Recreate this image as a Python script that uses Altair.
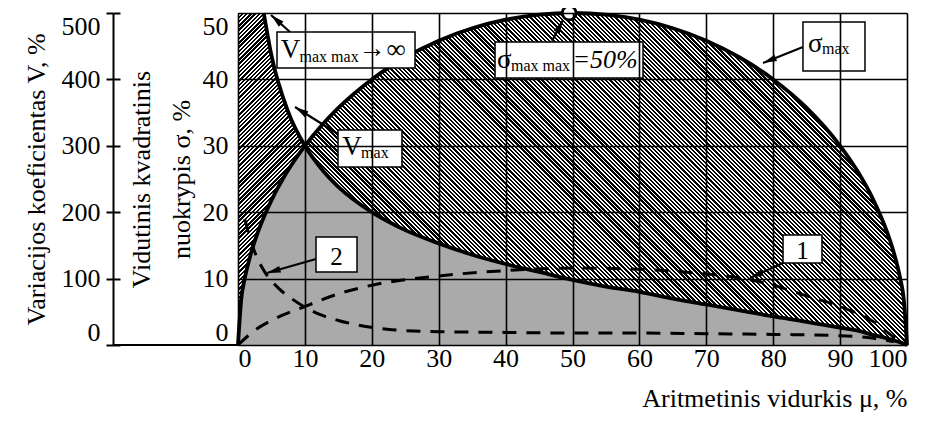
import math
import altair as alt
import pandas as pd

# ---------------- data ----------------
mu = [0, 0.5, 1, 2, 3, 3.85, 5, 7.5, 10, 12.5, 15, 20, 25, 30, 35, 40, 45, 50,
      55, 60, 65, 70, 75, 80, 85, 90, 92.5, 95, 97, 98, 99, 99.5, 100]
sigma_max = [0, 7.05, 9.95, 14.0, 17.06, 19.24, 21.79, 26.34, 30.0, 33.07, 35.71,
             40.0, 43.30, 45.83, 47.70, 48.99, 49.75, 50.0, 49.75, 48.99, 47.70,
             45.83, 43.30, 40.0, 35.71, 30.0, 26.34, 21.79, 17.06, 14.0, 9.95, 7.05, 0]
# V_max in % (left outer axis); None = off the 0..500 scale
v_max = [None, None, None, None, None, 500, 436, 351, 300, 265, 238, 200, 173, 153,
         136, 122, 110, 98, 88, 80, 70, 61, 52, 43, 35, 26, 22, 15, 10, 7, 4, 2, 0]

curve1_mu = [0, 2.5, 5, 10, 15, 20, 30, 40, 50, 60, 70, 75, 80, 85, 90, 95, 98, 100]
curve1_s = [0, 2.2, 3.7, 5.8, 7.7, 9.0, 10.4, 11.2, 11.6, 11.4, 10.7, 10.1, 9.0,
            7.4, 5.8, 3.5, 1.2, 0]
curve2_mu = [1, 2.5, 4, 6, 8, 10, 12.5, 15, 18, 23, 30, 40, 50, 60, 70, 80, 90, 95, 98]
curve2_s = [19, 14, 11, 8.6, 7, 5.7, 4.5, 3.7, 3.0, 2.3, 2.0, 1.9, 1.8, 1.8, 1.7,
            1.6, 1.4, 1.0, 0.5]

x_ticks = [0, 10, 20, 30, 40, 50, 60, 70, 80, 90, 100]
sigma_ticks = [0, 10, 20, 30, 40, 50]
v_ticks = [0, 100, 200, 300, 400, 500]

peak_mu = [49.5]
peak_s = [50]

# annotation boxes (data units): mu1, mu2, s1, s2
box_mu1 = [5.83, 14.95, 38.42, 84.45, 81.47, 11.66]
box_mu2 = [26.46, 24.51, 60.54, 93.72, 87.29, 17.79]
box_s1 = [47.14, 32.38, 45.63, 48.64, 16.57, 16.27]
box_s2 = [41.72, 26.81, 40.21, 41.27, 12.35, 10.99]

# annotation texts: text, mu, sigma(baseline), size, style, align
txt_text = ["V", "max max", "\u2192", "\u221e", "V", "max", "\u03c3", "max max",
            "=50%", "\u03c3", "max", "1", "2"]
txt_mu = [6.4, 9.2, 18.0, 22.2, 15.6, 18.4, 38.7, 40.8, 50.0, 85.2, 87.3, 84.38, 14.72]
txt_s = [43.2, 42.6, 43.4, 43.2, 28.6, 28.2, 41.7, 41.3, 41.7, 44.1, 43.8, 12.9, 12.1]
txt_size = [27, 16, 27, 27, 27, 16, 27, 16, 26, 27, 16, 25, 25]
txt_style = ["normal", "normal", "normal", "normal", "normal", "normal", "normal",
             "normal", "italic", "normal", "normal", "normal", "normal"]
txt_align = ["left"] * 11 + ["center", "center"]

# arrows: tail -> tip (data units)
arr_mu1 = [7.77, 14.95, 46.94, 84.45, 81.76, 11.66]
arr_s1 = [47.14, 31.78, 45.78, 44.88, 12.5, 12.95]
arr_mu2 = [4.93, 8.52, 48.58, 78.48, 76.53, 4.33]
arr_s2 = [49.70, 35.84, 48.95, 42.47, 10.09, 10.84]

# ---------------- layout ----------------
W, H = 669, 332
PX_MU = W / 100.0
PX_S = H / 50.0
FONT = "Liberation Serif"

main = pd.DataFrame({"mu": mu, "s": sigma_max, "v": v_max})
c1 = pd.DataFrame({"mu": curve1_mu, "s": curve1_s})
c2 = pd.DataFrame({"mu": curve2_mu, "s": curve2_s})
boxes = pd.DataFrame({"m1": box_mu1, "m2": box_mu2, "s1": box_s1, "s2": box_s2})
texts = pd.DataFrame({"t": txt_text, "mu": txt_mu, "s": txt_s, "size": txt_size,
                      "style": txt_style, "align": txt_align})
angles = []
for a, b, c, d in zip(arr_mu1, arr_s1, arr_mu2, arr_s2):
    dxp = (c - a) * PX_MU
    dyp = (d - b) * PX_S
    angles.append(math.degrees(math.atan2(dxp, dyp)) % 360)
arrows = pd.DataFrame({"m1": arr_mu1, "s1": arr_s1, "m2": arr_mu2, "s2": arr_s2,
                       "ang": angles})
peak = pd.DataFrame({"mu": peak_mu, "s": peak_s})


def hatch(kind, bw, bh, period=3.0, duty=0.55):
    k = (bw + bh) / (bw * bw + bh * bh)
    n = int(round((bw + bh) / (math.sqrt(2) * period)))
    stops = []
    for i in range(n):
        a = i / n
        b = (i + duty) / n
        stops.append(alt.GradientStop(offset=a, color="#000000"))
        stops.append(alt.GradientStop(offset=b, color="#000000"))
        stops.append(alt.GradientStop(offset=min(1, b + 1e-6), color="#ffffff"))
        stops.append(alt.GradientStop(offset=(i + 1) / n, color="#ffffff"))
    if kind == "back":  # "\\\\" stripes
        return alt.LinearGradient(gradient="linear", stops=stops, x1=0, y1=1,
                                  x2=k * bw, y2=1 - k * bh)
    return alt.LinearGradient(gradient="linear", stops=stops, x1=0, y1=0,
                              x2=k * bw, y2=k * bh)


xs = alt.Scale(domain=[0, 100], nice=False, zero=False)
ys = alt.Scale(domain=[0, 50], nice=False)

x_axis = alt.Axis(
    values=x_ticks, grid=True, gridColor="black", gridWidth=1.6, gridOpacity=1,
    domain=False, ticks=False, labelFontSize=26, labelPadding=0, labelColor="black",
    labelFont=FONT, title="Aritmetinis vidurkis \u03bc, %", titleFont=FONT,
    titleFontSize=26, titleFontWeight="normal", titleAnchor="end",
    titlePadding=14, titleColor="black", zindex=1)

y_axis = alt.Axis(
    values=sigma_ticks, grid=True, gridColor="black", gridWidth=1.6,
    gridOpacity=1, domain=False, ticks=False, labelFlush=True,
    labelFontSize=26, labelPadding=10, labelColor="black", labelFont=FONT,
    title=["Vidutinis kvadratinis", "nuokrypis \u03c3, %"], titleFont=FONT,
    titleFontSize=26, titleFontWeight="normal", titleLineHeight=40,
    titlePadding=8, titleColor="black", zindex=1)


def X(field):
    return alt.X(field, scale=xs, axis=x_axis)


def Y(field):
    return alt.Y(field, scale=ys, axis=y_axis)


calc_base = alt.Chart(main).transform_calculate(
    vc="datum.v == null ? 50 : min(50, datum.v / 10)"
).transform_calculate(
    lo="min(datum.s, datum.vc)"
)

stipple = calc_base.mark_area(fill="#aaaaaa", interpolate="monotone").encode(
    x=X("mu:Q"), y=Y("lo:Q"))

hatch_left = calc_base.transform_filter("datum.mu <= 10").mark_area(
    fill=hatch("fwd", 10 * PX_MU, H), interpolate="monotone").encode(
    x=X("mu:Q"), y=Y("s:Q"), y2="vc:Q")

hatch_right = calc_base.transform_filter("datum.mu >= 10").mark_area(
    fill=hatch("back", 90 * PX_MU, H), interpolate="monotone").encode(
    x=X("mu:Q"), y=Y("vc:Q"), y2="s:Q")

sigma_line = alt.Chart(main).mark_line(color="black", strokeWidth=3.8,
                                       interpolate="monotone").encode(
    x=X("mu:Q"), y=Y("s:Q"))

dash1 = alt.Chart(c1).mark_line(color="black", strokeWidth=3, strokeDash=[14, 10],
                                interpolate="monotone").encode(
    x=X("mu:Q"), y=Y("s:Q"))
dash2 = alt.Chart(c2).mark_line(color="black", strokeWidth=3, strokeDash=[14, 10],
                                interpolate="monotone").encode(
    x=X("mu:Q"), y=Y("s:Q"))

base_rule = alt.Chart(peak).mark_rule(color="black", strokeWidth=2).encode(
    x=alt.value(-125), x2=alt.value(0), y=alt.value(H))

box_marks = alt.Chart(boxes).mark_rect(fill="white", stroke="black",
                                       strokeWidth=1.5).encode(
    x=X("m1:Q"), x2="m2:Q", y=Y("s1:Q"), y2="s2:Q")

arrow_lines = alt.Chart(arrows).mark_rule(color="black", strokeWidth=2.2).encode(
    x=X("m1:Q"), x2="m2:Q", y=Y("s1:Q"), y2="s2:Q")
arrow_heads = alt.Chart(arrows).mark_point(
    shape="M0,0L0.6,2.4L-0.6,2.4Z", filled=True, color="black", size=130,
    opacity=1).encode(
    x=X("m2:Q"), y=Y("s2:Q"), angle=alt.Angle("ang:Q", scale=None))


def text_layer(cond, style, align):
    return alt.Chart(texts).transform_filter(cond).mark_text(
        font=FONT, color="black", baseline="alphabetic", fontStyle=style,
        align=align).encode(
        x=X("mu:Q"), y=Y("s:Q"), text="t:N",
        size=alt.Size("size:Q", scale=None))


text_normal = text_layer("datum.style == 'normal' && datum.align == 'left'",
                         "normal", "left")
text_italic = text_layer("datum.style == 'italic'", "italic", "left")
text_center = text_layer("datum.align == 'center'", "normal", "center")

peak_mark = alt.Chart(peak).mark_point(shape="circle", size=190, filled=True,
                                       fill="white", stroke="black",
                                       strokeWidth=2.8, opacity=1).encode(
    x=X("mu:Q"), y=Y("s:Q"))

sigma_group = alt.layer(stipple, hatch_left, hatch_right, sigma_line, dash1, dash2,
                        base_rule, arrow_lines, box_marks, text_normal, text_italic,
                        text_center, arrow_heads, peak_mark)

vs = alt.Scale(domain=[0, 500], nice=False)
v_line = alt.Chart(main).transform_filter("datum.v != null").mark_line(
    color="black", strokeWidth=3.8, interpolate="monotone").encode(
    x=X("mu:Q"),
    y=alt.Y("v:Q", scale=vs, axis=alt.Axis(
        orient="left", offset=125, values=v_ticks, grid=False, domain=True,
        domainColor="black", domainWidth=2, ticks=True, tickSize=7, tickWidth=2,
        tickColor="black", labelFlush=True, labelFontSize=26, labelPadding=6,
        labelColor="black", labelFont=FONT,
        title="Variacijos koeficientas V, %", titleFont=FONT, titleFontSize=26,
        titleFontWeight="normal", titlePadding=12, titleColor="black")))

v_ticks_df = pd.DataFrame({"v": v_ticks, "mu": [0] * len(v_ticks)})
v_right_ticks = alt.Chart(v_ticks_df).mark_point(opacity=0).encode(
    x=X("mu:Q"),
    y=alt.Y("v:Q", scale=vs, axis=alt.Axis(
        orient="left", offset=118, values=v_ticks, grid=False, domain=False,
        ticks=True, tickSize=7, tickWidth=2, tickColor="black", labels=False,
        title=None)))

chart = alt.layer(sigma_group, v_line, v_right_ticks).resolve_scale(
    y="independent"
).properties(
    width=W, height=H,
    autosize=alt.AutoSizeParams(type="none"),
    padding={"left": 230, "top": 5, "right": 16, "bottom": 74},
).configure_view(stroke="black", strokeWidth=2.5).configure(font=FONT)

chart.save("out.html", embed_options={"renderer": "svg", "actions": False})
